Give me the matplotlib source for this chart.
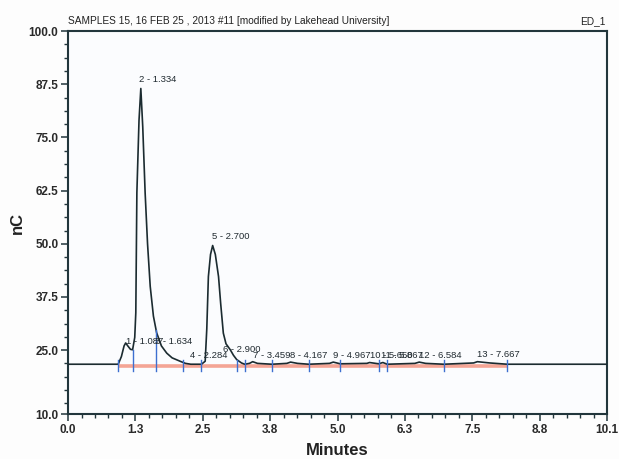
import numpy as np
import matplotlib
matplotlib.use("Agg")
import matplotlib.pyplot as plt
from matplotlib.ticker import FixedLocator

# ---- data ----
time_min = [0.00, 0.90, 0.94, 1.00, 1.05, 1.08, 1.12, 1.17, 1.21, 1.25, 1.27,
            1.29, 1.33, 1.364, 1.40, 1.445, 1.49, 1.54, 1.60, 1.66, 1.75, 1.85,
            1.95, 2.10, 2.20, 2.30, 2.50, 2.57, 2.60, 2.63, 2.67, 2.71, 2.76,
            2.82, 2.86, 2.91, 2.96, 3.04, 3.10, 3.16, 3.25, 3.31, 3.40, 3.46,
            3.55, 3.82, 4.10, 4.17, 4.30, 4.51, 4.90, 4.97, 5.10, 5.60, 5.65,
            5.82, 5.90, 5.98, 6.50, 6.58, 6.70, 7.04, 7.60, 7.67, 7.90, 8.23,
            10.10]
signal_nc = [21.7, 21.7, 21.7, 23.5, 26.0, 26.7, 26.0, 25.2, 25.1, 28.0, 33.8,
             62.0, 79.0, 86.5, 77.5, 61.9, 50.0, 40.0, 33.0, 29.1, 26.0, 24.3,
             23.2, 22.4, 21.9, 21.7, 21.7, 22.4, 30.0, 42.3, 47.5, 49.6, 47.5,
             42.3, 36.0, 29.0, 26.5, 25.1, 23.8, 22.8, 22.0, 21.7, 21.9, 22.3,
             21.9, 21.7, 21.9, 22.2, 21.9, 21.7, 21.9, 22.2, 21.8, 21.9, 22.1,
             21.8, 22.1, 21.7, 21.9, 22.2, 21.9, 21.7, 22.0, 22.3, 22.0, 21.7,
             21.7]
baseline_nc = 21.7
peak_labels = ["1 - 1.087", "2 - 1.334", "3 - 1.634", "4 - 2.284", "5 - 2.700",
               "6 - 2.900", "7 - 3.459", "8 - 4.167", "9 - 4.967", "10 - 5.650",
               "11 - 5.867", "12 - 6.584", "13 - 7.667"]
peak_rt = [1.087, 1.334, 1.634, 2.284, 2.700, 2.900, 3.459, 4.167, 4.967,
           5.650, 5.867, 6.584, 7.667]
label_y = [25.5, 87.0, 25.5, 22.0, 50.0, 23.4, 22.2, 22.2, 22.2, 22.2, 22.2,
           22.2, 22.3]
marker_times = [0.94, 1.21, 1.65, 2.15, 2.50, 3.17, 3.31, 3.82, 4.51, 5.10,
                5.82, 5.98, 7.04, 8.23]
x_ticks = [0.0, 1.2625, 2.525, 3.7875, 5.05, 6.3125, 7.575, 8.8375, 10.1]
x_tick_labels = ["0.0", "1.3", "2.5", "3.8", "5.0", "6.3", "7.5", "8.8", "10.1"]
y_ticks = [10.0, 25.0, 37.5, 50.0, 62.5, 75.0, 87.5, 100.0]
y_tick_labels = ["10.0", "25.0", "37.5", "50.0", "62.5", "75.0", "87.5", "100.0"]
title_left = "SAMPLES 15, 16 FEB 25 , 2013 #11 [modified by Lakehead University]"
title_right = "ED_1"

plt.rcParams['font.family'] = ['Liberation Sans', 'DejaVu Sans']

fig = plt.figure(figsize=(6.19, 4.59), dpi=100)
fig.patch.set_facecolor('#fdfdfd')
ax = fig.add_axes([0.1099, 0.098, 0.8708, 0.8344])
ax.set_facecolor('#fbfcfe')

frame = '#22363c'
ink = '#1b2b30'

# integration baseline (salmon band)
ax.plot([marker_times[0], marker_times[-1]], [baseline_nc - 0.35] * 2,
        color='#f4a595', lw=2.6, solid_capstyle='butt', zorder=2)

# trace
ax.plot(time_min, signal_nc, color=ink, lw=1.2, zorder=3)

# peak delimiter markers
t_arr = np.array(time_min)
s_arr = np.array(signal_nc)
for mt in marker_times:
    top = np.interp(mt, t_arr, s_arr)
    top = max(top, baseline_nc + 1.0)
    ax.plot([mt, mt], [baseline_nc - 1.5, top], color='#3d6fd0', lw=1.0,
            zorder=4)

# peak labels
for lab, rt, ly in zip(peak_labels, peak_rt, label_y):
    ax.text(rt, ly + 0.6, lab, fontsize=6.8, color='#202a30', ha='left',
            va='bottom', zorder=5)

ax.set_xlim(0, 10.1)
ax.set_ylim(10, 100)
ax.xaxis.set_major_locator(FixedLocator(x_ticks))
ax.set_xticklabels(x_tick_labels)
ax.yaxis.set_major_locator(FixedLocator(y_ticks))
ax.set_yticklabels(y_tick_labels)
ax.xaxis.set_minor_locator(FixedLocator(
    [x_ticks[0] + k * (x_ticks[1] - x_ticks[0]) / 5 for k in range(41)]))
ax.yaxis.set_minor_locator(FixedLocator(
    [100 - k * 3.125 for k in range(29)]))
ax.tick_params(which='major', direction='out', length=5, width=1.1,
               color=frame, labelsize=8.5, labelcolor='#2a2a2a', pad=2)
ax.tick_params(which='minor', direction='out', length=3, width=1.0,
               color=frame)
for lbl in ax.get_xticklabels() + ax.get_yticklabels():
    lbl.set_fontweight('bold')
for sp in ax.spines.values():
    sp.set_color(frame)
    sp.set_linewidth(1.5)

ax.set_xlabel("Minutes", fontsize=12, fontweight='bold', color='#222222',
              labelpad=5)
ax.set_ylabel("nC", fontsize=12, fontweight='bold', color='#222222',
              labelpad=3)

fig.text(0.1099, 0.943, title_left, fontsize=7.3, color='#222222',
         ha='left', va='bottom')
fig.text(0.978, 0.943, title_right, fontsize=7.3, color='#222222',
         ha='right', va='bottom')

fig.savefig("out.png", dpi=100, facecolor=fig.get_facecolor())
